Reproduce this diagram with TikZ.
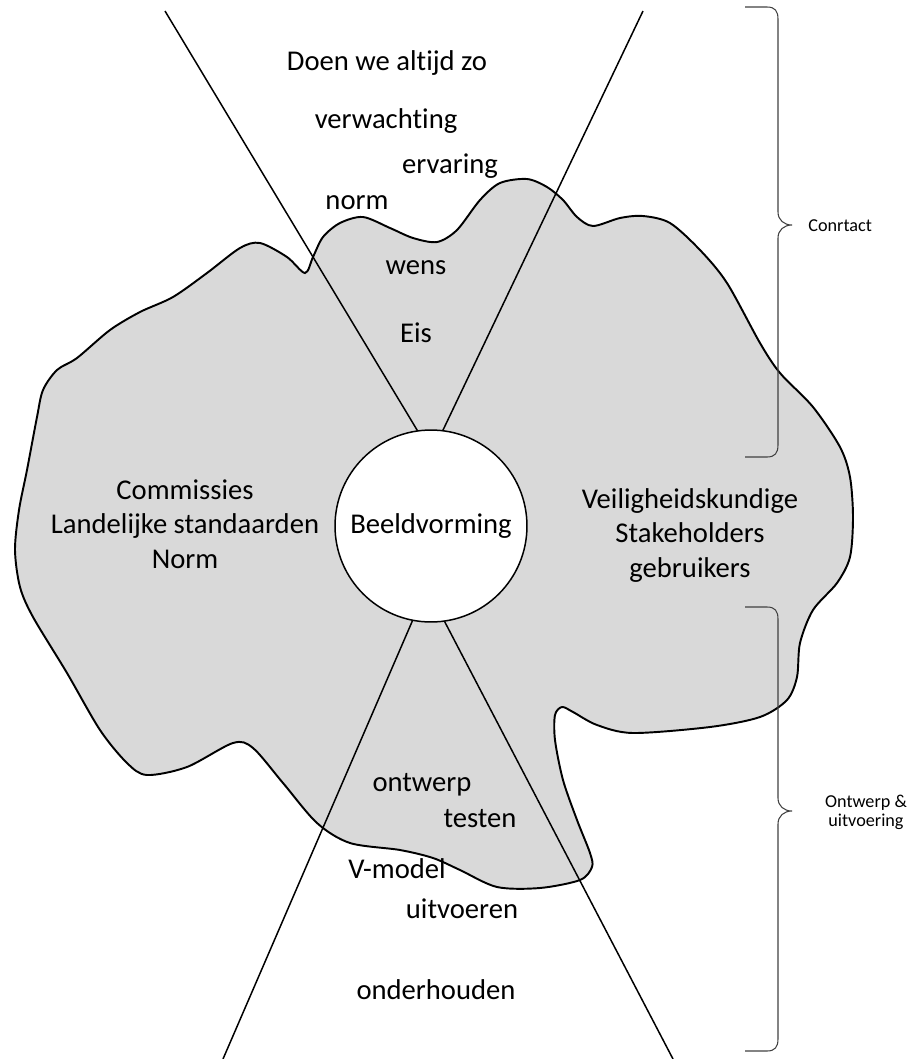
\documentclass[tikz,border=0pt]{standalone}
\usepackage{fontspec}
\setmainfont{Carlito}[Ligatures=NoCommon]
\definecolor{vlak}{HTML}{D9D9D9}
\definecolor{haakgrijs}{HTML}{404040}
\newcommand{\groot}{\fontsize{16.3}{19.6}\selectfont}
\newcommand{\klein}{\fontsize{10.35}{10.7}\selectfont}
\tikzset{
  rand/.style={fill=vlak, draw=black, line width=1.1pt},
  straal/.style={draw=black, line width=0.85pt},
  haak/.style={draw=haakgrijs, line width=0.6pt},
  cirkel/.style={circle, draw=black, fill=white, line width=0.85pt, minimum size=3.84cm, inner sep=0pt, outer sep=0pt, font=\groot},
  tekst/.style={font=\groot, align=center, inner sep=0pt, anchor=base},
  notitie/.style={font=\klein, align=center, inner sep=0pt}
}
% brace on the right: top, tip, bottom (pixel rows)
\newcommand{\sbrace}[3]{\draw[haak] (745,#1) -- (767,#1) .. controls (775,#1) and (778,#1+4) .. (778,#1+12) -- (778,#2-13) .. controls (778,#2-5) and (784,#2) .. (792,#2) .. controls (784,#2) and (778,#2+5) .. (778,#2+13) -- (778,#3-12) .. controls (778,#3-4) and (775,#3) .. (767,#3) -- (745,#3);}

\begin{document}
\begin{tikzpicture}[x=0.02cm, y=-0.02cm]
\useasboundingbox (0,0) rectangle (916,1059);

% de vlek
\filldraw[rand] plot[smooth cycle, tension=0.5] coordinates {
  (305,273) (313,257) (323,237) (340,223) (363,217) (390,228) (413,238) (437,242)
  (457,230) (480,200) (500,183) (527,179) (547,187) (563,200) (577,217) (593,226)
  (620,218) (643,216) (670,223) (700,250) (727,283) (760,343) (780,373) (813,407)
  (840,447) (850,477) (853,517) (850,557) (837,583) (813,610) (800,643) (797,677)
  (787,700) (760,717) (710,727) (633,733) (597,725) (573,712) (562,707) (555,715)
  (555,740) (563,780) (577,820) (590,853) (592,867) (580,880) (540,888) (497,887)
  (460,870) (433,858) (400,850) (350,843) (317,823) (283,783) (253,748) (233,743)
  (187,767) (147,775) (127,763) (100,730) (67,673) (33,617) (20,587) (15,550)
  (19,510) (27,470) (37,417) (43,390) (57,370) (77,358) (110,330) (140,312)
  (173,297) (207,273) (240,248) (260,243) (287,257)};

\node[cirkel] (beeld) at (431,526) {Beeldvorming};

\coordinate (lb) at (165,11);
\coordinate (rb) at (643,11);
\coordinate (lo) at (223,1059);
\coordinate (ro) at (673,1059);
\draw[straal] (beeld.98) -- (lb);
\draw[straal] (beeld.83) -- (rb);
\draw[straal] (beeld.259) -- (lo);
\draw[straal] (beeld.278) -- (ro);

\node[tekst] (doen) at (387,70) {Doen we altijd zo};
\node[tekst] (verw) at (386,128) {verwachting};
\node[tekst] (erv) at (450,173) {ervaring};
\node[tekst] (norm) at (357,209) {norm};
\node[tekst] (wens) at (416,274) {wens};
\node[tekst] (eis) at (416,342) {Eis};
\node[tekst] (comm) at (185,568) {Commissies\\Landelijke standaarden\\Norm};
\node[tekst] (veil) at (690,577) {Veiligheidskundige\\Stakeholders\\gebruikers};
\node[tekst] (ontw) at (422,791) {ontwerp};
\node[tekst] (test) at (480,827) {testen};
\node[tekst] (vmod) at (397,878) {V-model};
\node[tekst] (uitv) at (462,918) {uitvoeren};
\node[tekst] (onder) at (436,999) {onderhouden};

\sbrace{7}{225}{457}
\sbrace{607}{811}{1051}
\node[notitie, anchor=base west] (contact) at (808,231) {Conrtact};
\node[notitie] (uitvo) at (866,812) {Ontwerp \&\\uitvoering};
\end{tikzpicture}
\end{document}
